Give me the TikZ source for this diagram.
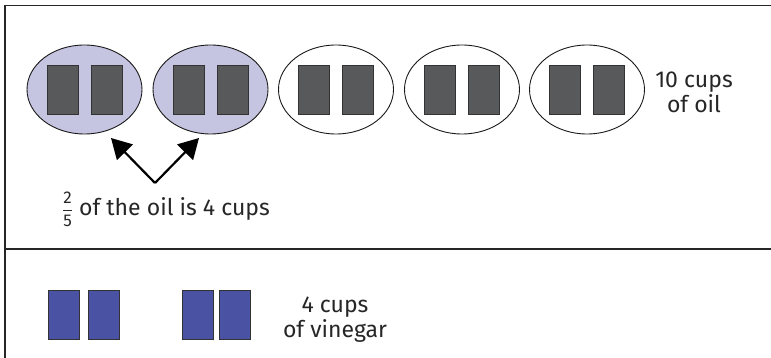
\documentclass[tikz,border=0pt]{standalone}
\usepackage{amsmath}
\usepackage{fontspec}
\setmainfont{Fira Sans}
\usetikzlibrary{arrows.meta,shapes.geometric}
\definecolor{cupgray}{HTML}{58595B}
\definecolor{lavender}{HTML}{C6C5E1}
\definecolor{vinegar}{HTML}{4A52A3}
\tikzset{
  every node/.style={font=\fontsize{23}{26}\selectfont, text=black!85},
  group/.style={ellipse, draw=black!90, line width=0.9pt, minimum width=115pt, minimum height=89pt, inner sep=0pt},
  share/.style={group, fill=lavender},
  oilcup/.style={draw=black!80, line width=0.8pt, fill=cupgray, minimum width=31pt, minimum height=49pt, inner sep=0pt},
  vinegarcup/.style={draw=black!80, line width=0.8pt, fill=vinegar, minimum width=31pt, minimum height=49pt, inner sep=0pt},
  pointer/.style={line width=2.2pt, -{Triangle[length=20pt, width=22pt]}},
}
\newcommand{\twofifths}{{\fontsize{17}{17}\selectfont$\dfrac{\text{2}}{\text{5}}$}}
\begin{document}
\begin{tikzpicture}[x=1pt, y=-1pt]
  \useasboundingbox (0,0) rectangle (771,358);
  % frame and divider
  \draw[line width=1.1pt, black!85] (5,359) -- (5,5.5) -- (772,5.5);
  \draw[line width=1.1pt, black!85] (5,249) -- (772,249);

  % five groups of two cups of oil
  \foreach \i/\cx/\kind in {1/84.5/share, 2/210.5/share, 3/336/group, 4/462/group, 5/587/group} {
    \node[\kind] (g\i) at (\cx,89.5) {};
    \node[oilcup] (c\i a) at (\cx-22,89.5) {};
    \node[oilcup] (c\i b) at (\cx+22,89.5) {};
  }
  \node[align=center] (oil) at (694,92) {10 cups\\[-1pt]of oil};

  % arrows to the two shaded groups
  \coordinate (apex) at (155,183);
  \coordinate (tipl) at (111,138);
  \coordinate (tipr) at (199,138);
  \draw[pointer] (apex) -- (tipl);
  \draw[pointer] (apex) -- (tipr);
  \node[anchor=base west, inner sep=0pt] (frac) at (62,215) {\twofifths\ of the oil is 4 cups};

  % four cups of vinegar
  \node[vinegarcup] (v1) at (63.5,314.5) {};
  \node[vinegarcup] (v2) at (103.5,314.5) {};
  \node[vinegarcup] (v3) at (198,314.5) {};
  \node[vinegarcup] (v4) at (234.5,314.5) {};
  \node[align=center] (vin) at (335,320) {4 cups\\[-1pt]of vinegar};
\end{tikzpicture}
\end{document}
